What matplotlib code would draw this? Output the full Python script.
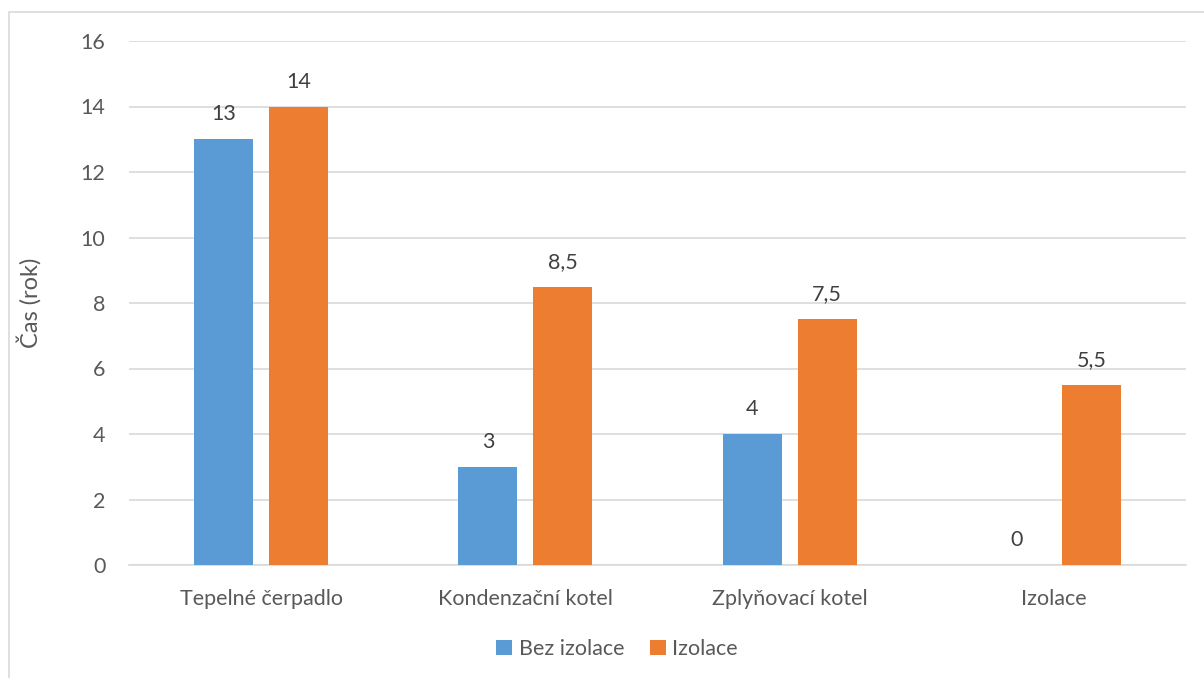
import numpy as np
import matplotlib.pyplot as plt
from matplotlib.patches import Rectangle

# doba navratnosti podle typu opatreni
categories = ['Tepelné čerpadlo', 'Kondenzační kotel', 'Zplyňovací kotel', 'Izolace']
bez_izolace = [13, 3, 4, 0]
izolace = [14, 8.5, 7.5, 5.5]
series_names = ['Bez izolace', 'Izolace']
yticks = [0, 2, 4, 6, 8, 10, 12, 14, 16]

blue = '#5B9BD5'
orange = '#ED7D31'
txt = '#595959'

plt.rcParams['font.family'] = ['Lato', 'DejaVu Sans']

fig = plt.figure(figsize=(12.04, 6.78), dpi=100)
ax = fig.add_axes([129 / 1204, 1 - 565 / 678, (1186 - 129) / 1204, 524 / 678])

# chart border (cropped at right and bottom)
fig.patches.append(Rectangle((9 / 1204, -0.1), 1.2, 1 - 12 / 678 + 0.1,
                             transform=fig.transFigure, fill=False,
                             edgecolor='#D9D9D9', linewidth=1.2))

x = np.arange(len(categories))
w = 0.223
off = 0.1418
b1 = ax.bar(x - off, bez_izolace, w, color=blue, label=series_names[0], zorder=3)
b2 = ax.bar(x + off, izolace, w, color=orange, label=series_names[1], zorder=3)

def fmt(v):
    s = ('%g' % v).replace('.', ',')
    return s

for bars, vals in ((b1, bez_izolace), (b2, izolace)):
    for r, v in zip(bars, vals):
        ax.annotate(fmt(v), (r.get_x() + r.get_width() / 2, v),
                    xytext=(0, 18), textcoords='offset points',
                    ha='center', va='center', fontsize=15.5, color='#404040')

ax.set_xlim(-0.5, len(categories) - 0.5)
ax.set_ylim(0, 16)
ax.set_yticks(yticks)
ax.set_yticklabels([str(t) for t in yticks])
ax.set_xticks(x)
ax.set_xticklabels(categories)
ax.tick_params(axis='both', length=0, labelsize=15.5, colors=txt)
ax.tick_params(axis='y', pad=17)
ax.tick_params(axis='x', pad=17)
ax.grid(axis='y', color='#D9D9D9', linewidth=1.2, zorder=0)
for s in ['top', 'right', 'left']:
    ax.spines[s].set_visible(False)
ax.spines['bottom'].set_color('#D9D9D9')
ax.spines['bottom'].set_linewidth(1.2)

ax.set_ylabel('Čas (rok)', fontsize=17, color=txt)
ax.yaxis.set_label_coords((42 - 129) / (1186 - 129), 0.5)

ax.legend(loc='center', bbox_to_anchor=(617 / 1204, 1 - 649 / 678),
          bbox_transform=fig.transFigure, ncol=2, frameon=False,
          fontsize=15.5, labelcolor=txt, handlelength=0.75, handleheight=0.75,
          handletextpad=0.3, columnspacing=1.2)

fig.savefig('out.png', dpi=100, facecolor='white')
